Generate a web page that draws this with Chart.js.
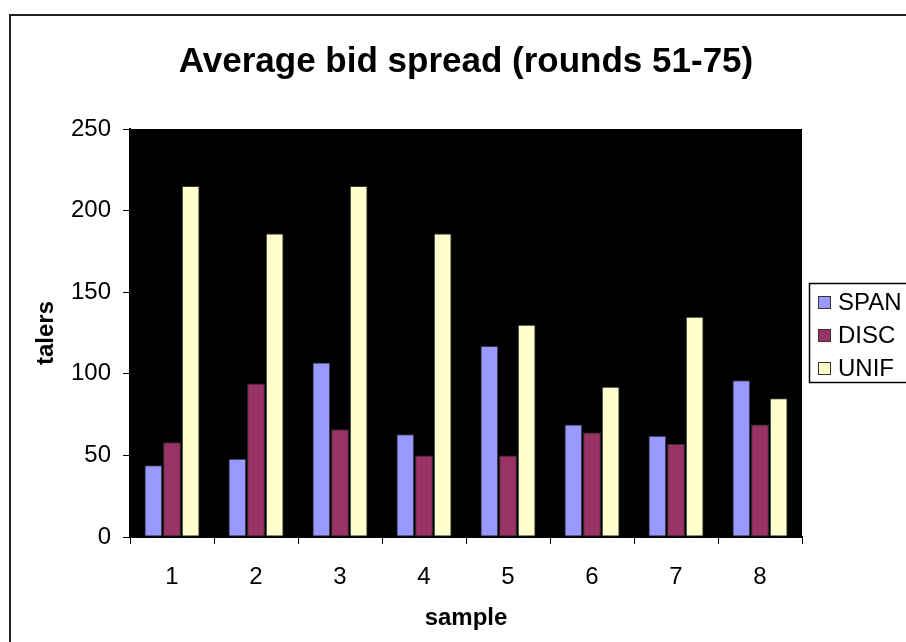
<!DOCTYPE html>
<html>
<head>
<meta charset="utf-8">
<title>Average bid spread</title>
<script src="https://cdn.jsdelivr.net/npm/chart.js@4.4.1/dist/chart.umd.min.js"></script>
<style>
    html, body { margin: 0; padding: 0; background: #fff; }
    #wrap { width: 906px; height: 642px; position: relative; }
</style>
</head>
<body>
<div id="wrap"><canvas id="bidChart" width="906" height="642"></canvas></div>
<script>
// ---------- data ----------
const samples = ['1', '2', '3', '4', '5', '6', '7', '8'];
const spanValues = [44, 48, 107, 63, 117, 69, 62, 96];
const discValues = [58, 94, 66, 50, 50, 64, 57, 69];
const unifValues = [215, 186, 215, 186, 130, 92, 135, 85];
const yTicks = [0, 50, 100, 150, 200, 250];
const chartTitle = 'Average bid spread (rounds 51-75)';

const FONT = "'Liberation Sans', Arial, sans-serif";

// black plot area, outer frame, title and legend box (Excel look)
const excelLook = {
    id: 'excelLook',
    beforeDraw(chart) {
        const { ctx, chartArea } = chart;
        ctx.save();
        ctx.fillStyle = '#000';
        ctx.fillRect(chartArea.left, chartArea.top, chartArea.right - chartArea.left, chartArea.bottom - chartArea.top);
        ctx.strokeStyle = '#222';
        ctx.lineWidth = 2;
        ctx.strokeRect(10, 15, 1000, 1000);
        ctx.restore();
    },
    afterDraw(chart) {
        const { ctx } = chart;
        ctx.save();
        // title, centred over the whole chart like the original
        ctx.fillStyle = '#000';
        ctx.font = 'bold 35px ' + FONT;
        ctx.textAlign = 'center';
        ctx.textBaseline = 'alphabetic';
        ctx.fillText(chartTitle, 466, 72);

        // legend frame
        ctx.textAlign = 'left';
        ctx.fillStyle = '#fff';
        ctx.fillRect(809, 283, 120, 99);
        ctx.strokeStyle = '#000';
        ctx.lineWidth = 1.5;
        ctx.strokeRect(809.5, 283.5, 120, 99);
        ctx.font = '24px ' + FONT;
        ctx.textBaseline = 'middle';
        chart.data.datasets.forEach((ds, i) => {
            const y = 302 + i * 33;
            ctx.fillStyle = ds.backgroundColor;
            ctx.fillRect(818, y - 6, 12, 12);
            ctx.strokeStyle = '#333';
            ctx.lineWidth = 1;
            ctx.strokeRect(818.5, y - 5.5, 12, 12);
            ctx.fillStyle = '#000';
            ctx.fillText(ds.label, 838, y + 1);
        });
        ctx.restore();
    }
};

const ctx = document.getElementById('bidChart').getContext('2d');
new Chart(ctx, {
    type: 'bar',
    data: {
        labels: samples,
        datasets: [
            { label: 'SPAN', data: spanValues, backgroundColor: '#9999FF' },
            { label: 'DISC', data: discValues, backgroundColor: '#993366' },
            { label: 'UNIF', data: unifValues, backgroundColor: '#FFFFCC' }
        ].map(ds => Object.assign(ds, { borderColor: '#333', borderWidth: 1, borderSkipped: false }))
    },
    options: {
        responsive: false,
        animation: false,
        devicePixelRatio: 1,
        categoryPercentage: 0.667,
        barPercentage: 0.95,
        layout: { padding: { left: 0, right: 104, top: 129, bottom: 0 } },
        plugins: {
            legend: { display: false },
            tooltip: { enabled: false },
            title: { display: false }
        },
        scales: {
            x: {
                grid: { display: true, drawOnChartArea: false, color: '#000', tickLength: 7, offset: true },
                border: { color: '#000', width: 2 },
                ticks: { color: '#000', font: { family: FONT, size: 24 }, padding: 19 },
                title: { display: true, text: 'sample', color: '#000', font: { family: FONT, size: 24, weight: 'bold' }, padding: { top: 0, bottom: 9 } },
                afterFit(scale) { scale.height = 105; }
            },
            y: {
                min: 0,
                max: 250,
                afterBuildTicks(scale) { scale.ticks = yTicks.map(v => ({ value: v })); },
                grid: { display: true, drawOnChartArea: false, color: '#000', tickLength: 7 },
                border: { color: '#000', width: 2 },
                ticks: { color: '#000', font: { family: FONT, size: 24 }, padding: 12 },
                title: { display: true, text: 'talers', color: '#000', font: { family: FONT, size: 24, weight: 'bold' }, padding: { top: 32, bottom: 0 } },
                afterFit(scale) { scale.width = 130; }
            }
        }
    },
    plugins: [excelLook]
});
</script>
</body>
</html>
